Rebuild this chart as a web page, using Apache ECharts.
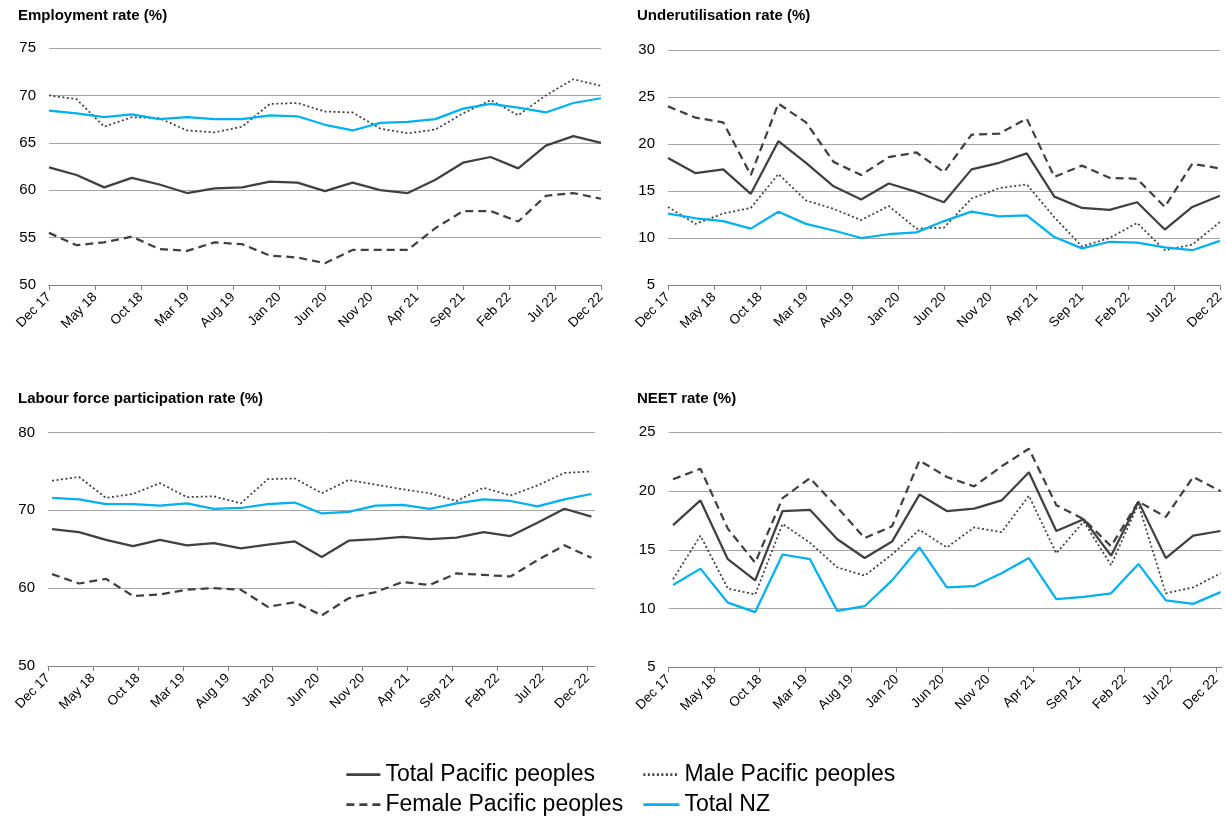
<!DOCTYPE html>
<html>
<head>
<meta charset="utf-8">
<title>Pacific peoples labour market</title>
<script src="https://cdn.jsdelivr.net/npm/echarts@6/dist/echarts.min.js"></script>
<style>
  html, body { margin: 0; padding: 0; background: #fff; }
  #chart { width: 1227px; height: 818px; }
</style>
</head>
<body>
<div id="chart"></div>
<script>
// quarterly points, Dec 17 .. Dec 22 (every 3 months)
var quarters = ['Dec 17','Mar 18','Jun 18','Sep 18','Dec 18','Mar 19','Jun 19','Sep 19','Dec 19','Mar 20','Jun 20',
                'Sep 20','Dec 20','Mar 21','Jun 21','Sep 21','Dec 21','Mar 22','Jun 22','Sep 22','Dec 22'];
// x axis labels, every 5 months from Dec 17
var tickLabels = ['Dec 17','May 18','Oct 18','Mar 19','Aug 19','Jan 20','Jun 20','Nov 20','Apr 21','Sep 21','Feb 22','Jul 22','Dec 22'];
var seriesNames = ['Total Pacific peoples','Male Pacific peoples','Female Pacific peoples','Total NZ'];

var employmentTotal  = [62.4,61.6,60.3,61.3,60.6,59.7,60.2,60.3,60.9,60.8,59.9,60.8,60.0,59.7,61.1,62.9,63.5,62.3,64.7,65.7,65.0];
var employmentMale   = [70.0,69.6,66.7,67.7,67.6,66.3,66.1,66.7,69.1,69.2,68.3,68.2,66.5,66.0,66.4,68.1,69.5,67.9,70.0,71.7,71.0];
var employmentFemale = [55.5,54.2,54.5,55.1,53.8,53.6,54.5,54.3,53.1,52.9,52.3,53.7,53.7,53.7,56.0,57.8,57.8,56.7,59.4,59.7,59.1];
var employmentNZ     = [68.4,68.1,67.7,68.0,67.5,67.7,67.5,67.5,67.9,67.8,66.9,66.3,67.1,67.2,67.5,68.6,69.1,68.7,68.2,69.2,69.7];

var underTotal  = [18.5,16.9,17.3,14.7,20.3,18.0,15.5,14.1,15.8,14.9,13.8,17.3,18.0,19.0,14.4,13.2,13.0,13.8,10.9,13.3,14.5];
var underMale   = [13.3,11.5,12.6,13.2,16.8,14.0,13.1,11.9,13.4,11.0,11.1,14.2,15.3,15.7,12.2,9.1,10.0,11.6,8.7,9.3,11.7];
var underFemale = [24.0,22.8,22.3,16.7,24.3,22.3,18.1,16.7,18.6,19.1,17.0,21.0,21.1,22.7,16.5,17.7,16.4,16.3,13.3,17.9,17.4];
var underNZ     = [12.6,12.1,11.8,11.0,12.8,11.5,10.8,10.0,10.4,10.6,11.8,12.8,12.3,12.4,10.1,8.9,9.6,9.5,9.0,8.7,9.7];

var lfprTotal  = [67.6,67.2,66.2,65.4,66.2,65.5,65.8,65.1,65.6,66.0,64.0,66.1,66.3,66.6,66.3,66.5,67.2,66.7,68.4,70.2,69.2];
var lfprMale   = [73.8,74.3,71.6,72.1,73.5,71.7,71.8,70.9,74.0,74.1,72.2,73.9,73.3,72.7,72.2,71.2,72.9,71.9,73.2,74.8,75.0];
var lfprFemale = [61.8,60.6,61.2,59.0,59.2,59.8,60.0,59.8,57.6,58.2,56.5,58.7,59.5,60.8,60.4,61.9,61.7,61.5,63.6,65.5,63.9];
var lfprNZ     = [71.6,71.4,70.8,70.8,70.6,70.9,70.2,70.3,70.8,71.0,69.6,69.8,70.6,70.7,70.2,70.9,71.4,71.2,70.5,71.4,72.1];

var neetTotal  = [17.1,19.2,14.2,12.4,18.3,18.4,15.9,14.3,15.7,19.7,18.3,18.5,19.2,21.6,16.6,17.6,14.5,19.1,14.3,16.2,16.6];
var neetMale   = [12.5,16.2,11.7,11.2,17.2,15.6,13.5,12.8,14.6,16.7,15.2,16.9,16.5,19.6,14.7,17.4,13.7,18.9,11.3,11.8,13.0];
var neetFemale = [21.0,21.9,16.8,13.9,19.4,21.1,18.6,16.0,17.0,22.6,21.2,20.4,22.1,23.6,18.8,17.6,15.3,19.1,17.8,21.2,20.0];
var neetNZ     = [12.0,13.4,10.5,9.7,14.6,14.2,9.8,10.2,12.4,15.2,11.8,11.9,13.0,14.3,10.8,11.0,11.3,13.8,10.7,10.4,11.4];

var panels = [
  { title: 'Employment rate (%)', left: 49, top: 48, width: 552, height: 237, min: 50, max: 75, interval: 5,
    xMax: 60, shift: 0, titlePos: [18, 8],
    data: [employmentTotal, employmentMale, employmentFemale, employmentNZ] },
  { title: 'Underutilisation rate (%)', left: 668, top: 50, width: 552, height: 235, min: 5, max: 30, interval: 5,
    xMax: 60, shift: 0, titlePos: [637, 8],
    data: [underTotal, underMale, underFemale, underNZ] },
  { title: 'Labour force participation rate (%)', left: 48, top: 432.5, width: 547, height: 233.5, min: 50, max: 80, interval: 10,
    xMax: 60.85, shift: 0.45, titlePos: [18, 391],
    data: [lfprTotal, lfprMale, lfprFemale, lfprNZ] },
  { title: 'NEET rate (%)', left: 668.5, top: 432.3, width: 553.5, height: 235, min: 5, max: 25, interval: 5,
    xMax: 60.66, shift: 0.5, titlePos: [637, 391],
    data: [neetTotal, neetMale, neetFemale, neetNZ] }
];

var lineStyles = [
  { color: '#404040', width: 2.25, type: 'solid' },
  { color: '#404040', width: 1.75, type: [2, 2.5] },
  { color: '#404040', width: 2.25, type: [8, 5] },
  { color: '#00b0f0', width: 2.25, type: 'solid' }
];
var drawOrder = [2, 1, 0, 3];
var legendPos = [[345, 763, 34], [642, 763, 36], [345, 793, 34], [642, 793, 36]];

var tickValues = tickLabels.map(function (t, i) { return i * 5; });
var font = '"Liberation Sans", Arial, sans-serif';

var chart = echarts.init(document.getElementById('chart'));

var option = {
  backgroundColor: '#ffffff',
  animation: false,
  title: panels.map(function (p) {
    return {
      text: p.title, left: p.titlePos[0], top: p.titlePos[1], padding: 0,
      textStyle: { fontFamily: font, fontSize: 15, fontWeight: 'bold', color: '#000' }
    };
  }),
  legend: seriesNames.map(function (name, i) {
    return {
      data: [name], left: legendPos[i][0], top: legendPos[i][1], padding: 0,
      itemWidth: legendPos[i][2], itemHeight: 14,
      itemStyle: { opacity: 0 },
      lineStyle: { width: 2.75 },
      textStyle: { fontFamily: font, fontSize: 23, color: '#000' }
    };
  }),
  grid: panels.map(function (p) {
    return { left: p.left, top: p.top, width: p.width, height: p.height, containLabel: false };
  }),
  xAxis: panels.map(function (p, gi) {
    return {
      type: 'value', gridIndex: gi, min: 0, max: p.xMax,
      axisLine: { show: true, lineStyle: { color: '#808080', width: 1 } },
      axisTick: { show: true, length: 5, inside: false, customValues: tickValues, lineStyle: { color: '#808080' } },
      splitLine: { show: false },
      axisLabel: {
        customValues: tickValues, rotate: 45, margin: 10,
        fontFamily: font, fontSize: 13.5, color: '#000',
        formatter: function (v) { return tickLabels[Math.round(v / 5)] || ''; }
      }
    };
  }),
  yAxis: panels.map(function (p, gi) {
    return {
      type: 'value', gridIndex: gi, min: p.min, max: p.max, interval: p.interval,
      axisLine: { show: false }, axisTick: { show: false },
      splitLine: { show: true, lineStyle: { color: '#a6a6a6', width: 1 } },
      axisLabel: { fontFamily: font, fontSize: 15, color: '#000', margin: 13 }
    };
  }),
  series: []
};

panels.forEach(function (p, gi) {
  drawOrder.forEach(function (si) {
    option.series.push({
      name: seriesNames[si],
      type: 'line',
      xAxisIndex: gi, yAxisIndex: gi,
      symbol: 'none',
      lineStyle: lineStyles[si],
      itemStyle: { color: lineStyles[si].color },
      data: p.data[si].map(function (v, i) { return [i * 3 + p.shift, v]; })
    });
  });
});

chart.setOption(option);
</script>
</body>
</html>
